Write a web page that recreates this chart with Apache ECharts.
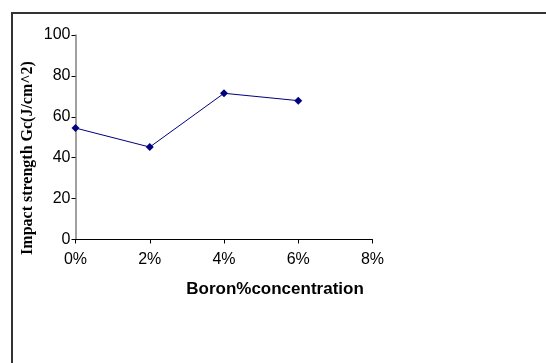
<!DOCTYPE html>
<html>
<head>
<meta charset="utf-8">
<script src="https://cdn.jsdelivr.net/npm/echarts@6/dist/echarts.min.js"></script>
<style>html,body{margin:0;padding:0;background:#fff;}#c{width:546px;height:363px;}</style>
</head>
<body>
<div id="c"></div>
<script>
const boronPct = [0, 2, 4, 6];
const impactStrength = [54.5, 45.2, 71.5, 67.9];
const xTicks = [0, 2, 4, 6, 8];
const yTicks = [0, 20, 40, 60, 80, 100];

const chart = echarts.init(document.getElementById('c'), null, {renderer: 'canvas'});
chart.setOption({
  animation: false,
  backgroundColor: '#fff',
  grid: {left: 75.5, right: 173.5, top: 35, bottom: 123.5, containLabel: false},
  xAxis: {
    type: 'value', min: xTicks[0], max: xTicks[xTicks.length - 1], interval: 2,
    axisLine: {show: true, onZero: false, lineStyle: {color: '#000', width: 1}},
    axisTick: {show: true, inside: false, length: 4, lineStyle: {color: '#000'}},
    axisLabel: {formatter: '{value}%', color: '#000', fontFamily: 'Liberation Sans, Arial', fontSize: 16, margin: 12},
    splitLine: {show: false}
  },
  yAxis: {
    type: 'value', min: yTicks[0], max: yTicks[yTicks.length - 1], interval: 20,
    axisLine: {show: true, lineStyle: {color: '#808080', width: 1.5}},
    axisTick: {show: true, inside: false, length: 4, lineStyle: {color: '#000'}},
    axisLabel: {color: '#000', fontFamily: 'Liberation Sans, Arial', fontSize: 16, margin: 5},
    splitLine: {show: false}
  },
  series: [{
    type: 'line',
    data: boronPct.map((x, i) => [x, impactStrength[i]]),
    symbol: 'diamond', symbolSize: 8,
    lineStyle: {color: '#000080', width: 1},
    itemStyle: {color: '#000080'}
  }],
  graphic: [
    {type: 'rect', shape: {x: 12, y: 13, width: 600, height: 400},
     style: {fill: 'none', stroke: '#333', lineWidth: 2}, silent: true},
    {type: 'text', x: 275, y: 289,
     style: {text: 'Boron%concentration', font: 'bold 17px "Liberation Sans", Arial', fill: '#000', textAlign: 'center', textVerticalAlign: 'middle'}},
    {type: 'text', x: 28, y: 158, rotation: Math.PI / 2,
     style: {text: 'Impact strength Gc(J/cm^2)', font: 'bold 16px "Liberation Serif", "Times New Roman"', fill: '#000', textAlign: 'center', textVerticalAlign: 'middle'}}
  ]
});
</script>
</body>
</html>
